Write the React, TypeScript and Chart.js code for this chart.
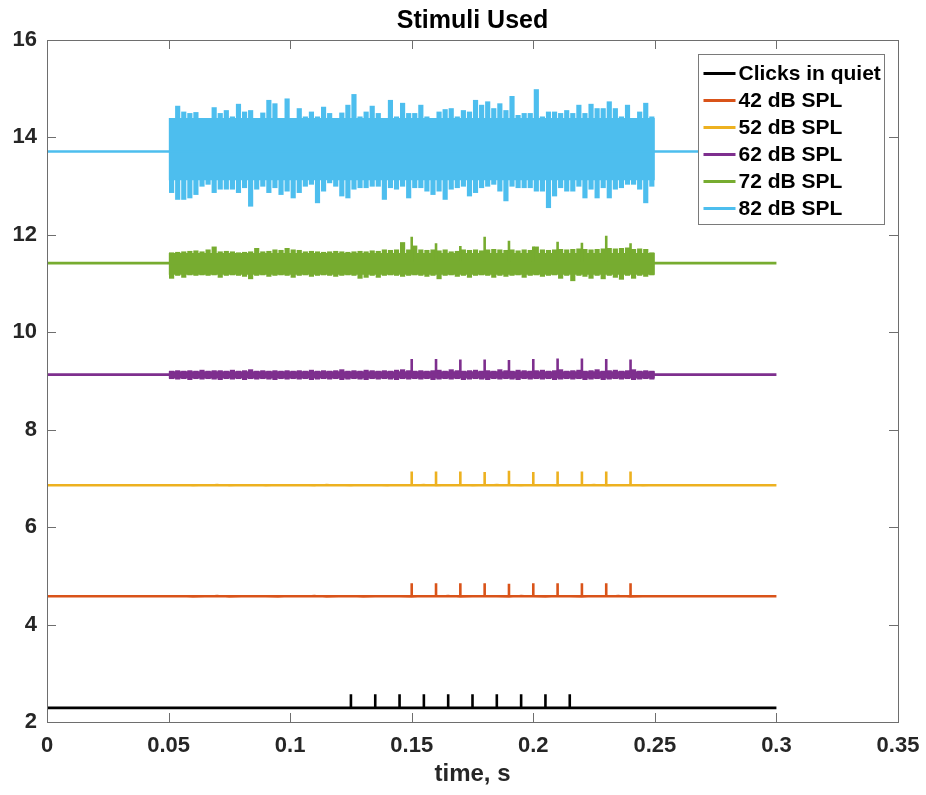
import React, { useEffect, useRef } from 'react';
import { Chart, registerables } from 'chart.js';

Chart.register(...registerables);

// ---------- text ----------
const TITLE = 'Stimuli Used';
const X_LABEL = 'time, s';
const X_TICKS = [0, 0.05, 0.1, 0.15, 0.2, 0.25, 0.3, 0.35];
const X_TICK_LABELS = ['0', '0.05', '0.1', '0.15', '0.2', '0.25', '0.3', '0.35'];
const Y_TICKS = [2, 4, 6, 8, 10, 12, 14, 16];
const Y_TICK_LABELS = ['2', '4', '6', '8', '10', '12', '14', '16'];

// ---------- series ----------
const SERIES_LABELS = ['Clicks in quiet', '42 dB SPL', '52 dB SPL', '62 dB SPL', '72 dB SPL', '82 dB SPL'];
const SERIES_COLORS = ['#000000', '#D95319', '#EDB120', '#7E2F8E', '#77AC30', '#4DBEEE'];
const BASELINES = [2.29, 4.58, 6.86, 9.13, 11.42, 13.71];

const SIGNAL_START = 0;
const SIGNAL_END = 0.3;
const NOISE_START = 0.05;
const STRIP_STEP = 0.0025; // width of one noise-envelope reading
const NOISE_LINE_STEP = 0.005;

// click times
const CLICK_TIMES_QUIET = [0.125, 0.135, 0.145, 0.155, 0.165, 0.175, 0.185, 0.195, 0.205, 0.215];
const CLICK_TIMES_NOISE = [0.15, 0.16, 0.17, 0.18, 0.19, 0.2, 0.21, 0.22, 0.23, 0.24];

// click peak values
const CLICK_PEAKS_QUIET = [2.57, 2.57, 2.57, 2.57, 2.57, 2.57, 2.57, 2.57, 2.57, 2.57];
const CLICK_PEAKS_42 = [4.85, 4.85, 4.85, 4.85, 4.84, 4.85, 4.85, 4.85, 4.85, 4.85];
const CLICK_PEAKS_52 = [7.14, 7.14, 7.14, 7.13, 7.16, 7.13, 7.14, 7.14, 7.14, 7.14];
const CLICK_PEAKS_62 = [9.45, 9.45, 9.44, 9.44, 9.43, 9.45, 9.46, 9.46, 9.45, 9.44];
const CLICK_PEAKS_72 = [11.96, 11.83, 11.77, 11.96, 11.88, 11.76, 11.86, 11.84, 11.98, 11.83];

// low-level noise traces (42 and 52 dB), one reading every 5 ms from 0.05 s
const NOISE_42 = [4.58, 4.59, 4.57, 4.58, 4.6, 4.57, 4.58, 4.59, 4.58, 4.57, 4.59, 4.58, 4.6, 4.57, 4.58, 4.59, 4.57, 4.58, 4.59, 4.58, 4.57, 4.59, 4.58, 4.6, 4.57, 4.58, 4.59, 4.58, 4.57, 4.6, 4.58, 4.57, 4.59, 4.58, 4.57, 4.59, 4.58, 4.6, 4.57, 4.58, 4.58];
const NOISE_52 = [6.86, 6.87, 6.85, 6.86, 6.88, 6.85, 6.86, 6.87, 6.85, 6.86, 6.87, 6.86, 6.85, 6.88, 6.86, 6.85, 6.87, 6.86, 6.85, 6.87, 6.86, 6.88, 6.85, 6.86, 6.87, 6.85, 6.86, 6.88, 6.86, 6.85, 6.87, 6.86, 6.85, 6.87, 6.86, 6.88, 6.85, 6.86, 6.87, 6.85, 6.86];

// dense noise: solid core [low, high]
const CORE_62 = [9.05, 9.2];
const CORE_72 = [11.18, 11.63];
const CORE_82 = [13.12, 14.4];

// dense noise envelopes, one reading every 2.5 ms from 0.05 s to 0.25 s
const UPPER_62 = [9.21, 9.22, 9.21, 9.22, 9.21, 9.23, 9.21, 9.22, 9.22, 9.21, 9.23, 9.21, 9.22, 9.24, 9.21, 9.22, 9.21, 9.22, 9.21, 9.22, 9.21, 9.22, 9.21, 9.23, 9.21, 9.22, 9.21, 9.22, 9.24, 9.21, 9.22, 9.21, 9.23, 9.22, 9.21, 9.22, 9.21, 9.23, 9.24, 9.22, 9.21, 9.22, 9.21, 9.22, 9.23, 9.21, 9.24, 9.22, 9.21, 9.22, 9.23, 9.21, 9.22, 9.21, 9.24, 9.22, 9.21, 9.23, 9.22, 9.21, 9.22, 9.23, 9.21, 9.22, 9.24, 9.21, 9.22, 9.23, 9.21, 9.22, 9.24, 9.21, 9.22, 9.23, 9.21, 9.22, 9.24, 9.21, 9.22, 9.21];
const LOWER_62 = [9.04, 9.03, 9.04, 9.02, 9.04, 9.03, 9.04, 9.03, 9.02, 9.04, 9.03, 9.04, 9.02, 9.04, 9.03, 9.04, 9.03, 9.02, 9.04, 9.03, 9.04, 9.03, 9.04, 9.02, 9.03, 9.04, 9.03, 9.04, 9.02, 9.03, 9.04, 9.03, 9.02, 9.04, 9.03, 9.04, 9.03, 9.02, 9.04, 9.03, 9.04, 9.03, 9.04, 9.02, 9.03, 9.04, 9.03, 9.04, 9.02, 9.03, 9.04, 9.03, 9.02, 9.04, 9.03, 9.04, 9.03, 9.02, 9.04, 9.03, 9.04, 9.03, 9.04, 9.02, 9.03, 9.04, 9.03, 9.04, 9.02, 9.03, 9.04, 9.02, 9.03, 9.04, 9.03, 9.04, 9.02, 9.03, 9.04, 9.03];

const UPPER_72 = [11.64, 11.65, 11.66, 11.67, 11.68, 11.66, 11.7, 11.76, 11.66, 11.67, 11.66, 11.64, 11.65, 11.66, 11.73, 11.66, 11.67, 11.7, 11.69, 11.73, 11.7, 11.69, 11.66, 11.67, 11.66, 11.65, 11.66, 11.67, 11.66, 11.65, 11.66, 11.67, 11.66, 11.68, 11.67, 11.7, 11.69, 11.7, 11.85, 11.7, 11.78, 11.7, 11.69, 11.7, 11.68, 11.7, 11.66, 11.67, 11.7, 11.69, 11.7, 11.68, 11.7, 11.71, 11.7, 11.69, 11.7, 11.68, 11.7, 11.69, 11.76, 11.7, 11.69, 11.7, 11.71, 11.7, 11.71, 11.72, 11.71, 11.7, 11.71, 11.72, 11.73, 11.72, 11.73, 11.74, 11.71, 11.72, 11.71, 11.64];
const LOWER_72 = [11.1, 11.16, 11.12, 11.17, 11.16, 11.17, 11.16, 11.17, 11.12, 11.16, 11.17, 11.16, 11.14, 11.09, 11.16, 11.17, 11.14, 11.16, 11.17, 11.16, 11.12, 11.16, 11.17, 11.14, 11.16, 11.17, 11.16, 11.14, 11.16, 11.17, 11.16, 11.1, 11.12, 11.16, 11.12, 11.16, 11.17, 11.16, 11.14, 11.16, 11.17, 11.16, 11.14, 11.16, 11.09, 11.16, 11.17, 11.14, 11.16, 11.12, 11.16, 11.17, 11.16, 11.12, 11.16, 11.14, 11.16, 11.17, 11.12, 11.16, 11.17, 11.14, 11.16, 11.17, 11.1, 11.16, 11.05, 11.16, 11.14, 11.1, 11.16, 11.09, 11.16, 11.12, 11.08, 11.16, 11.1, 11.16, 11.14, 11.17];

const UPPER_82 = [14.37, 14.65, 14.53, 14.5, 14.52, 14.37, 14.37, 14.62, 14.5, 14.56, 14.43, 14.69, 14.53, 14.56, 14.33, 14.51, 14.77, 14.7, 14.33, 14.8, 14.36, 14.6, 14.43, 14.53, 14.43, 14.63, 14.5, 14.37, 14.51, 14.67, 14.89, 14.43, 14.53, 14.65, 14.5, 14.39, 14.77, 14.43, 14.71, 14.5, 14.5, 14.67, 14.43, 14.37, 14.53, 14.58, 14.6, 14.43, 14.56, 14.53, 14.77, 14.67, 14.74, 14.6, 14.7, 14.56, 14.85, 14.46, 14.5, 14.5, 14.99, 14.43, 14.53, 14.53, 14.5, 14.56, 14.5, 14.67, 14.5, 14.69, 14.6, 14.6, 14.74, 14.6, 14.43, 14.67, 14.37, 14.53, 14.71, 14.43];
const LOWER_82 = [12.86, 12.72, 12.72, 12.75, 12.82, 12.99, 13.03, 12.86, 12.93, 12.93, 12.93, 12.86, 12.96, 12.58, 12.93, 12.99, 12.86, 12.96, 12.82, 12.89, 12.75, 12.86, 12.99, 13.03, 12.65, 12.89, 13.06, 12.99, 12.79, 12.75, 12.93, 12.96, 12.96, 12.99, 12.99, 12.72, 12.96, 12.93, 12.99, 12.75, 12.96, 12.96, 12.89, 12.82, 12.89, 12.72, 12.93, 12.96, 12.99, 12.79, 12.86, 12.96, 12.99, 13.03, 12.89, 12.69, 12.99, 12.96, 12.96, 12.96, 12.89, 12.89, 12.55, 12.79, 12.96, 12.89, 12.89, 12.99, 12.75, 12.93, 12.75, 12.96, 12.75, 12.93, 12.96, 13.03, 13.03, 12.93, 12.65, 12.99];

const FONT = '"Liberation Sans", Arial, Helvetica, sans-serif';
const TEXT_COLOR = '#262626';
const AXIS_COLOR = '#6e6e6e';

function signalPoints(base: number, times: number[], peaks: number[]) {
  const pts: { x: number; y: number }[] = [{ x: SIGNAL_START, y: base }];
  times.forEach((t, i) => {
    pts.push({ x: t, y: base }, { x: t, y: peaks[i] }, { x: t, y: base });
  });
  pts.push({ x: SIGNAL_END, y: base });
  return pts;
}

function stripData(lower: number[], upper: number[]) {
  return lower.map((lo, i) => ({ x: NOISE_START + STRIP_STEP * (i + 0.5), y: [lo, upper[i]] }));
}

function noiseLine(values: number[]) {
  return values.map((v, i) => ({ x: NOISE_START + NOISE_LINE_STEP * i, y: v }));
}

function coreData(core: number[]) {
  const end = NOISE_START + STRIP_STEP * UPPER_82.length;
  return [{ x: NOISE_START, y: core[1] }, { x: end, y: core[1] }];
}

const decorations = {
  id: 'decorations',
  afterDatasetsDraw(chart: any) {
    const { ctx, chartArea: a, scales } = chart;
    const xs = scales.x;
    const ys = scales.y;
    ctx.save();
    // frame
    ctx.strokeStyle = AXIS_COLOR;
    ctx.lineWidth = 1;
    ctx.strokeRect(Math.round(a.left) + 0.5, Math.round(a.top) + 0.5, Math.round(a.right - a.left), Math.round(a.bottom - a.top));
    ctx.beginPath();
    X_TICKS.forEach((v) => {
      const px = Math.round(xs.getPixelForValue(v)) + 0.5;
      ctx.moveTo(px, a.bottom);
      ctx.lineTo(px, a.bottom - 9);
      ctx.moveTo(px, a.top);
      ctx.lineTo(px, a.top + 9);
    });
    Y_TICKS.forEach((v) => {
      const py = Math.round(ys.getPixelForValue(v)) + 0.5;
      ctx.moveTo(a.left, py);
      ctx.lineTo(a.left + 9, py);
      ctx.moveTo(a.right, py);
      ctx.lineTo(a.right - 9, py);
    });
    ctx.stroke();

    // legend
    const w = 186;
    const h = 170;
    const lx = Math.round(a.right - 14 - w) + 0.5;
    const ly = Math.round(a.top + 14) + 0.5;
    ctx.fillStyle = '#ffffff';
    ctx.fillRect(lx, ly, w, h);
    ctx.strokeStyle = '#7a7a7a';
    ctx.lineWidth = 1;
    ctx.strokeRect(lx, ly, w, h);
    ctx.font = `bold 21px ${FONT}`;
    ctx.textBaseline = 'middle';
    ctx.textAlign = 'left';
    SERIES_LABELS.forEach((label, i) => {
      const ry = ly + 19 + i * 27;
      ctx.strokeStyle = SERIES_COLORS[i];
      ctx.lineWidth = 3;
      ctx.beginPath();
      ctx.moveTo(lx + 5, ry);
      ctx.lineTo(lx + 37, ry);
      ctx.stroke();
      ctx.fillStyle = '#000000';
      ctx.fillText(label, lx + 40, ry + 1);
    });

    // title and axis label
    const cx = (a.left + a.right) / 2;
    ctx.textAlign = 'center';
    ctx.fillStyle = '#000000';
    ctx.font = `bold 25px ${FONT}`;
    ctx.fillText(TITLE, cx, a.top - 19);
    ctx.fillStyle = TEXT_COLOR;
    ctx.font = `bold 24px ${FONT}`;
    ctx.fillText(X_LABEL, cx, a.bottom + 52);
    ctx.restore();
  },
};

export default function App() {
  const ref = useRef<HTMLCanvasElement | null>(null);

  useEffect(() => {
    if (!ref.current) return;
    const lineBase = {
      type: 'line' as const,
      pointRadius: 0,
      borderWidth: 2.6,
      tension: 0,
      fill: false,
      borderJoinStyle: 'bevel' as const,
    };
    const stripBase = {
      type: 'bar' as const,
      borderWidth: 0,
      barPercentage: 0.85,
      categoryPercentage: 1,
      grouped: false,
    };
    const coreBase = {
      type: 'line' as const,
      pointRadius: 0,
      borderWidth: 0,
      tension: 0,
    };

    const datasets: any[] = [
      { ...lineBase, label: SERIES_LABELS[0], data: signalPoints(BASELINES[0], CLICK_TIMES_QUIET, CLICK_PEAKS_QUIET), borderColor: SERIES_COLORS[0] },
      { ...lineBase, label: SERIES_LABELS[1], data: signalPoints(BASELINES[1], CLICK_TIMES_NOISE, CLICK_PEAKS_42), borderColor: SERIES_COLORS[1] },
      { ...lineBase, label: SERIES_LABELS[1] + ' noise', data: noiseLine(NOISE_42), borderColor: SERIES_COLORS[1], borderWidth: 1.2 },
      { ...lineBase, label: SERIES_LABELS[2], data: signalPoints(BASELINES[2], CLICK_TIMES_NOISE, CLICK_PEAKS_52), borderColor: SERIES_COLORS[2] },
      { ...lineBase, label: SERIES_LABELS[2] + ' noise', data: noiseLine(NOISE_52), borderColor: SERIES_COLORS[2], borderWidth: 1.2 },
      { ...lineBase, label: SERIES_LABELS[3], data: signalPoints(BASELINES[3], CLICK_TIMES_NOISE, CLICK_PEAKS_62), borderColor: SERIES_COLORS[3] },
      { ...coreBase, label: SERIES_LABELS[3] + ' core', data: coreData(CORE_62), borderColor: SERIES_COLORS[3], backgroundColor: SERIES_COLORS[3], fill: { value: CORE_62[0] } },
      { ...stripBase, label: SERIES_LABELS[3] + ' env', data: stripData(LOWER_62, UPPER_62), backgroundColor: SERIES_COLORS[3] },
      { ...lineBase, label: SERIES_LABELS[4], data: signalPoints(BASELINES[4], CLICK_TIMES_NOISE, CLICK_PEAKS_72), borderColor: SERIES_COLORS[4] },
      { ...coreBase, label: SERIES_LABELS[4] + ' core', data: coreData(CORE_72), borderColor: SERIES_COLORS[4], backgroundColor: SERIES_COLORS[4], fill: { value: CORE_72[0] } },
      { ...stripBase, label: SERIES_LABELS[4] + ' env', data: stripData(LOWER_72, UPPER_72), backgroundColor: SERIES_COLORS[4] },
      { ...lineBase, label: SERIES_LABELS[5], data: signalPoints(BASELINES[5], [], []), borderColor: SERIES_COLORS[5] },
      { ...coreBase, label: SERIES_LABELS[5] + ' core', data: coreData(CORE_82), borderColor: SERIES_COLORS[5], backgroundColor: SERIES_COLORS[5], fill: { value: CORE_82[0] } },
      { ...stripBase, label: SERIES_LABELS[5] + ' env', data: stripData(LOWER_82, UPPER_82), backgroundColor: SERIES_COLORS[5] },
    ];

    const chart = new Chart(ref.current, {
      type: 'line',
      data: { datasets },
      plugins: [decorations],
      options: {
        animation: false,
        responsive: false,
        events: [],
        layout: { padding: { top: 40, right: 28, left: 0, bottom: 0 } },
        plugins: {
          legend: { display: false },
          title: { display: false },
          tooltip: { enabled: false },
        },
        scales: {
          x: {
            type: 'linear',
            min: 0,
            max: 0.35,
            offset: false,
            grid: { display: false, drawTicks: false },
            border: { display: false },
            afterBuildTicks: (s: any) => {
              s.ticks = X_TICKS.map((v) => ({ value: v }));
            },
            afterFit: (s: any) => {
              s.height = 73;
            },
            ticks: {
              autoSkip: false,
              maxRotation: 0,
              padding: 0,
              color: TEXT_COLOR,
              font: { family: FONT, size: 22, weight: 'bold', lineHeight: '48px' },
              callback: (_v: any, i: number) => X_TICK_LABELS[i],
            },
          },
          y: {
            type: 'linear',
            min: 2,
            max: 16,
            grid: { display: false, drawTicks: false },
            border: { display: false },
            afterBuildTicks: (s: any) => {
              s.ticks = Y_TICKS.map((v) => ({ value: v }));
            },
            afterFit: (s: any) => {
              s.width = 47;
            },
            ticks: {
              autoSkip: false,
              padding: 10,
              color: TEXT_COLOR,
              font: { family: FONT, size: 22, weight: 'bold' },
              callback: (_v: any, i: number) => Y_TICK_LABELS[i],
            },
          },
        },
      } as any,
    });
    return () => chart.destroy();
  }, []);

  return (
    <div style={{ position: 'fixed', left: 0, top: 0, width: 926, height: 795, background: '#ffffff' }}>
      <canvas ref={ref} width={926} height={795} style={{ display: 'block' }} />
    </div>
  );
}
